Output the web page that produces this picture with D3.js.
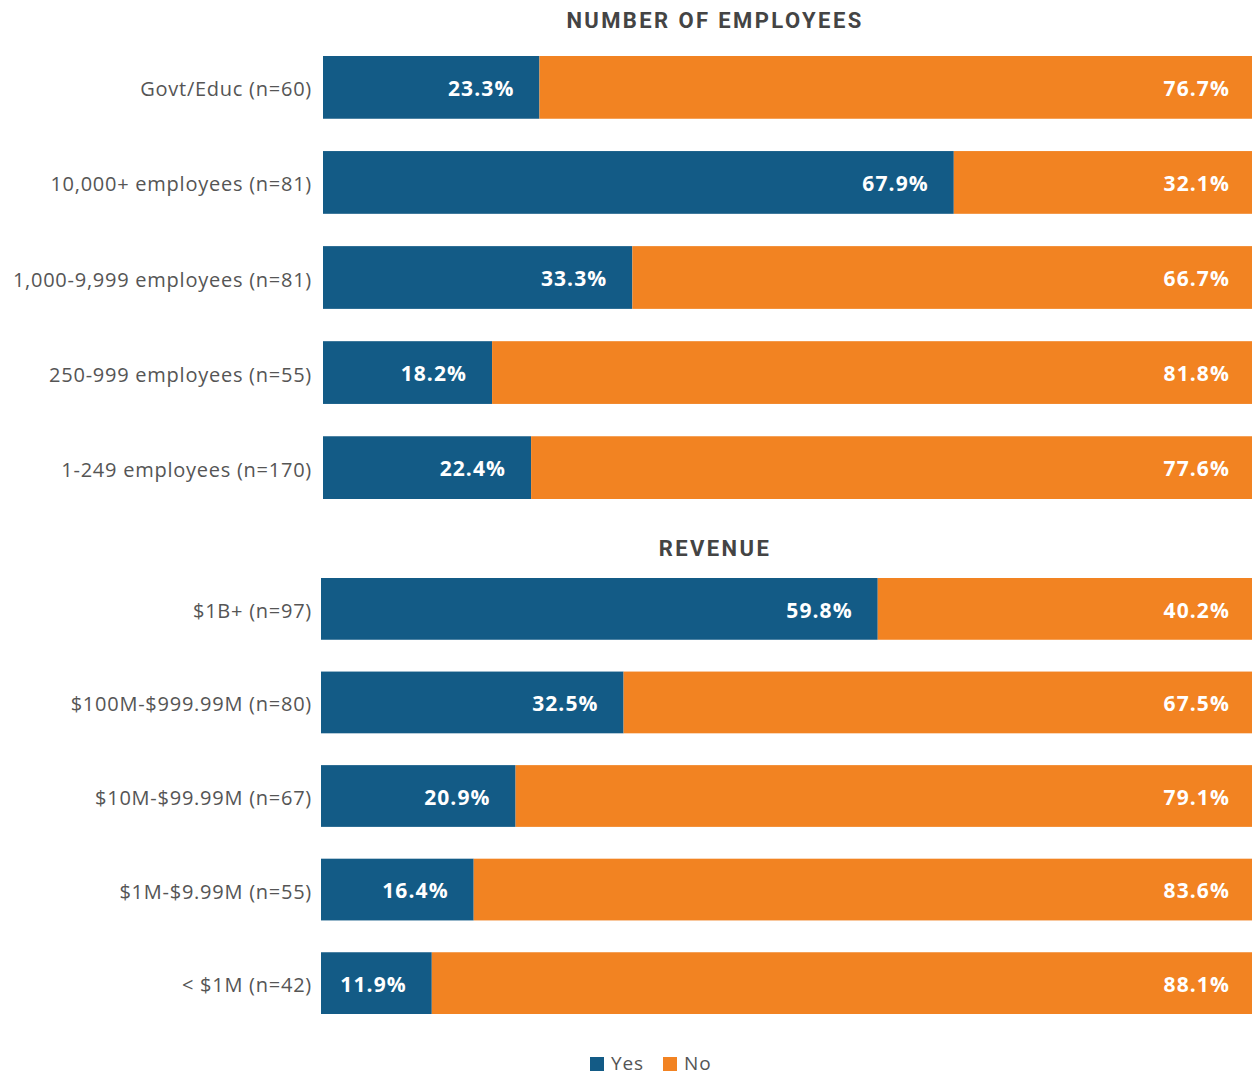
<!DOCTYPE html>
<html><head><meta charset="utf-8">
<script src="https://cdn.jsdelivr.net/npm/d3@7"></script>
<style>body{margin:0;background:#fff}svg{display:block}</style>
</head><body>
<script>
const panelTitles = ["NUMBER OF EMPLOYEES", "REVENUE"];
const employeeCategories = ["Govt/Educ (n=60)", "10,000+ employees (n=81)", "1,000-9,999 employees (n=81)", "250-999 employees (n=55)", "1-249 employees (n=170)"];
const employeeYes = [23.3, 67.9, 33.3, 18.2, 22.4];
const employeeNo = [76.7, 32.1, 66.7, 81.8, 77.6];
const revenueCategories = ["$1B+ (n=97)", "$100M-$999.99M (n=80)", "$10M-$99.99M (n=67)", "$1M-$9.99M (n=55)", "< $1M (n=42)"];
const revenueYes = [59.8, 32.5, 20.9, 16.4, 11.9];
const revenueNo = [40.2, 67.5, 79.1, 83.6, 88.1];
const seriesNames = ["Yes", "No"];

const W = 1252, H = 1077;
const colors = {Yes: "#135b86", No: "#f28322"};
const svg = d3.select("body").append("svg").attr("width", W).attr("height", H);
const labelFont = "'Open Sans', sans-serif";

const panels = [
  {title: panelTitles[0], cats: employeeCategories, yes: employeeYes, no: employeeNo, x0: 323, y: [56, 499], titleY: 28},
  {title: panelTitles[1], cats: revenueCategories, yes: revenueYes, no: revenueNo, x0: 321, y: [578, 1014], titleY: 556}
];

panels.forEach(p => {
  const x = d3.scaleLinear().domain([0, 100]).range([p.x0, W]);
  const y = d3.scaleBand().domain(p.cats).range(p.y).paddingInner(0.34).paddingOuter(0);
  const g = svg.append("g");
  g.append("text").attr("x", 715).attr("y", p.titleY).attr("text-anchor", "middle")
    .attr("font-family", "Roboto, sans-serif").attr("font-weight", 700).attr("font-size", 22)
    .attr("letter-spacing", 2.4).attr("fill", "#444").text(p.title);
  const rows = p.cats.map((c, i) => ({c, yes: p.yes[i], no: p.no[i]}));
  const row = g.selectAll("g.row").data(rows).join("g").attr("class", "row");
  row.append("rect").attr("x", x(0)).attr("y", d => y(d.c)).attr("width", d => x(d.yes) - x(0))
    .attr("height", y.bandwidth()).attr("fill", colors.Yes);
  row.append("rect").attr("x", d => x(d.yes)).attr("y", d => y(d.c)).attr("width", d => x(d.yes + d.no) - x(d.yes))
    .attr("height", y.bandwidth()).attr("fill", colors.No);
  row.append("text").attr("x", d => x(d.yes) - 25).attr("y", d => y(d.c) + y.bandwidth() / 2)
    .attr("dy", "0.42em").attr("text-anchor", "end").attr("fill", "#fff")
    .attr("font-family", labelFont).attr("font-weight", 700).attr("font-size", 21).attr("letter-spacing", 1.1)
    .text(d => d.yes.toFixed(1) + "%");
  row.append("text").attr("x", d => x(d.yes + d.no) - 22).attr("y", d => y(d.c) + y.bandwidth() / 2)
    .attr("dy", "0.42em").attr("text-anchor", "end").attr("fill", "#fff")
    .attr("font-family", labelFont).attr("font-weight", 700).attr("font-size", 21).attr("letter-spacing", 1.1)
    .text(d => d.no.toFixed(1) + "%");
  row.append("text").attr("x", 312).attr("y", d => y(d.c) + y.bandwidth() / 2)
    .attr("dy", "0.45em").attr("text-anchor", "end").attr("fill", "#555")
    .attr("font-family", labelFont).attr("font-size", 20).attr("letter-spacing", 0.75)
    .text(d => d.c);
});

const legend = svg.append("g");
const legX = [590, 663];
seriesNames.forEach((s, i) => {
  legend.append("rect").attr("x", legX[i]).attr("y", 1057).attr("width", 14).attr("height", 14).attr("fill", colors[s]);
  legend.append("text").attr("x", legX[i] + 21).attr("y", 1070)
    .attr("font-family", labelFont).attr("font-size", 19).attr("letter-spacing", 0.9).attr("fill", "#555").text(s);
});
</script>
</body></html>
